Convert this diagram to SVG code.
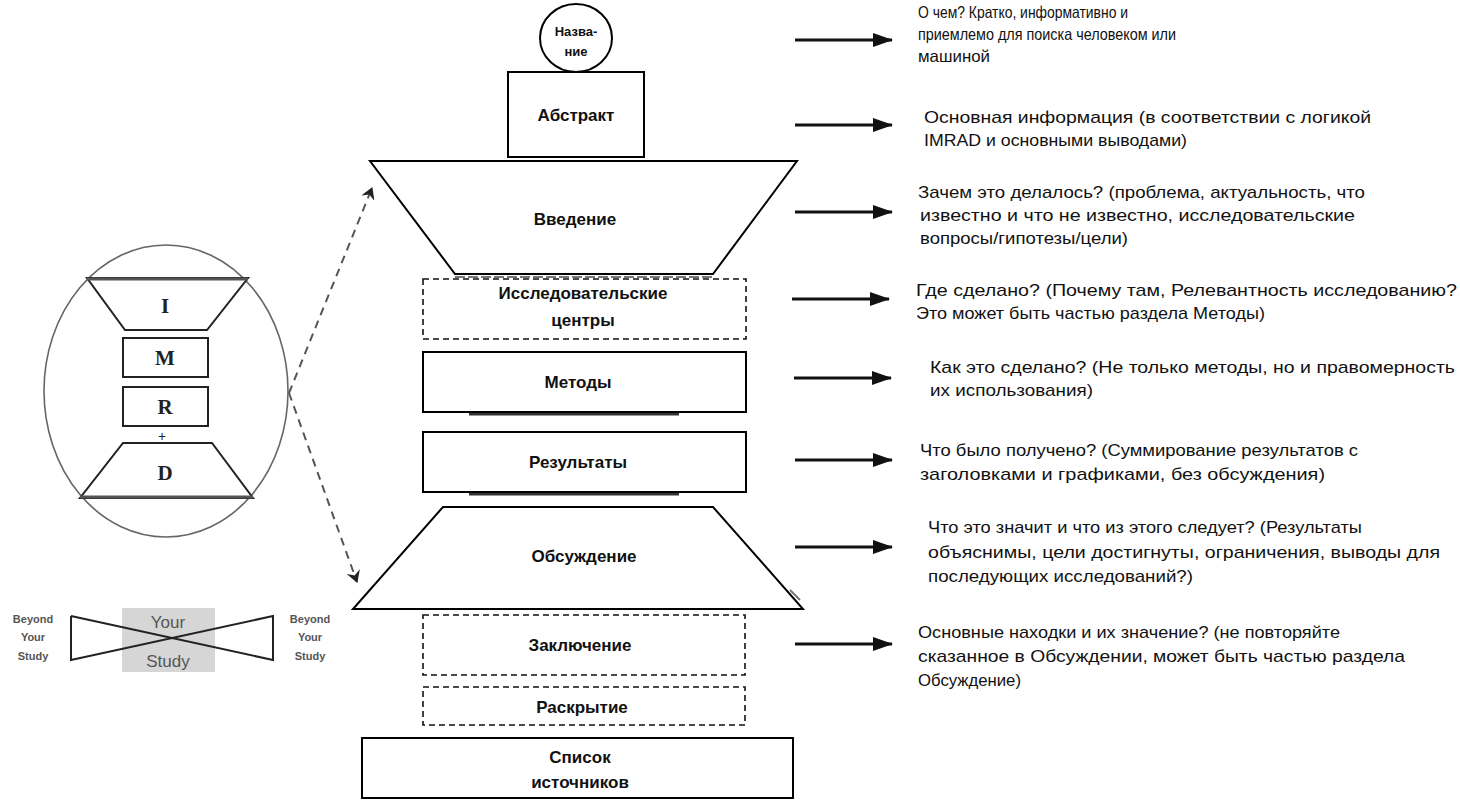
<svg xmlns="http://www.w3.org/2000/svg" width="1460" height="800" viewBox="0 0 1460 800">
<defs>
<marker id="ah" markerWidth="20" markerHeight="16" refX="19" refY="8" orient="auto" markerUnits="userSpaceOnUse" viewBox="0 0 20 16">
<path d="M0,1 L20,8 L0,15 z" fill="#111"/>
</marker>
<marker id="ahd" markerWidth="12" markerHeight="14" refX="11" refY="7" orient="auto" markerUnits="userSpaceOnUse" viewBox="0 0 12 14">
<path d="M0,0 L12,7 L0,14 L4,7 z" fill="#222"/>
</marker>
<style>
.box{fill:#fff;stroke:#000;stroke-width:2}
.dbox{fill:#fff;stroke:#111;stroke-width:1.6;stroke-dasharray:6,4}
.lbl{font-family:"Liberation Sans",Arial,sans-serif;font-weight:bold;font-size:17px;fill:#111;text-anchor:middle;dominant-baseline:central}
.desc{font-family:"Liberation Sans",Arial,sans-serif;font-size:17px;fill:#111;dominant-baseline:central}
.d1{font-size:16.5px}
.arr{stroke:#111;stroke-width:3;fill:none}
.darr{stroke:#555;stroke-width:2;stroke-dasharray:8,6;fill:none}
.imr{fill:#fff;stroke:#222;stroke-width:2}
.ser{font-family:"Liberation Serif","Times New Roman",serif;font-weight:bold;font-size:21px;fill:#222;text-anchor:middle;dominant-baseline:central}
.sm{font-family:"Liberation Sans",Arial,sans-serif;font-weight:bold;font-size:11px;fill:#555;text-anchor:middle;dominant-baseline:central}
.ys{font-family:"Liberation Sans",Arial,sans-serif;font-size:17px;fill:#555;text-anchor:middle;dominant-baseline:central}
.sh{stroke:#333;stroke-width:3}
</style>
</defs>
<rect width="1460" height="800" fill="#fff"/>

<!-- left IMRAD figure -->
<g id="imrad">
<ellipse cx="166" cy="391" rx="122" ry="146" fill="#fff" stroke="#666" stroke-width="1.6"/>
<polygon class="imr" points="87,278 248,278 207,330 125,330"/>
<line x1="87" y1="279" x2="248" y2="279" stroke="#555" stroke-width="3"/>
<text class="ser" x="165" y="306">I</text>
<rect class="imr" x="123" y="338" width="85" height="39"/>
<text class="ser" x="165" y="358">M</text>
<rect class="imr" x="123" y="387" width="85" height="39"/>
<text class="ser" x="165" y="407">R</text>
<text class="ser" x="162" y="436" style="font-size:14px">+</text>
<polygon class="imr" points="123,443 212,443 253,498 80,498"/>
<line x1="80" y1="497" x2="253" y2="497" stroke="#555" stroke-width="3"/>
<text class="ser" x="165" y="473">D</text>
</g>

<g id="beyond">
<rect x="122" y="608" width="93" height="64" fill="#d6d6d6"/>
<text class="ys" x="168" y="622">Your</text>
<text class="ys" x="168" y="661">Study</text>
<polyline points="71,616 273,660 273,616 71,660 71,616" fill="none" stroke="#222" stroke-width="2"/>
<text class="sm" x="33" y="619">Beyond</text>
<text class="sm" x="33" y="637">Your</text>
<text class="sm" x="33" y="656">Study</text>
<text class="sm" x="310" y="619">Beyond</text>
<text class="sm" x="310" y="637">Your</text>
<text class="sm" x="310" y="656">Study</text>
</g>

<!-- central stack -->
<g id="title">
<ellipse cx="576" cy="38" rx="36" ry="34" class="box"/>
<text class="lbl" x="576" y="31" style="font-size:13px">Назва-</text>
<text class="lbl" x="576" y="51" style="font-size:13px">ние</text>
</g>
<g id="abstract">
<rect class="box" x="508" y="72" width="136" height="85"/>
<text class="lbl" x="576" y="115">Абстракт</text>
</g>
<g id="intro">
<line x1="455" y1="277" x2="713" y2="277" stroke="#777" stroke-width="2" stroke-dasharray="10,3"/>
<polygon class="box" points="370,161 797,161 713,274 455,274"/>
<text class="lbl" x="575" y="219">Введение</text>
</g>
<g id="centers">
<rect class="dbox" x="423" y="279" width="323" height="60"/>
<text class="lbl" x="583" y="293">Исследовательские</text>
<text class="lbl" x="583" y="320">центры</text>
</g>
<g id="methods">
<line class="sh" x1="469" y1="414" x2="679" y2="414"/>
<rect class="box" x="423" y="352" width="323" height="60"/>
<text class="lbl" x="578" y="382">Методы</text>
</g>
<g id="results">
<line class="sh" x1="469" y1="494" x2="679" y2="494"/>
<rect class="box" x="423" y="432" width="323" height="60"/>
<text class="lbl" x="578" y="462">Результаты</text>
</g>
<g id="discussion">
<line x1="790" y1="590" x2="800" y2="600" stroke="#777" stroke-width="2"/>
<polygon class="box" points="443,507 713,507 803,609 353,609"/>
<text class="lbl" x="584" y="556">Обсуждение</text>
</g>
<g id="conclusion">
<rect class="dbox" x="423" y="615" width="322" height="60"/>
<text class="lbl" x="580" y="645">Заключение</text>
</g>
<g id="disclosure">
<rect class="dbox" x="423" y="687" width="322" height="38"/>
<text class="lbl" x="582" y="707">Раскрытие</text>
</g>
<g id="references">
<rect class="box" x="362" y="738" width="431" height="60"/>
<text class="lbl" x="580" y="757">Список</text>
<text class="lbl" x="580" y="782">источников</text>
</g>

<!-- connectors -->
<g id="connectors">
<path class="darr" d="M289,393 L372,188" marker-end="url(#ahd)"/>
<path class="darr" d="M289,393 L357,582" marker-end="url(#ahd)"/>
<line class="arr" x1="795" y1="40" x2="892" y2="40" marker-end="url(#ah)"/>
<line class="arr" x1="795" y1="125" x2="892" y2="125" marker-end="url(#ah)"/>
<line class="arr" x1="795" y1="212" x2="892" y2="212" marker-end="url(#ah)"/>
<line class="arr" x1="792" y1="299" x2="889" y2="299" marker-end="url(#ah)"/>
<line class="arr" x1="794" y1="378" x2="891" y2="378" marker-end="url(#ah)"/>
<line class="arr" x1="795" y1="460" x2="892" y2="460" marker-end="url(#ah)"/>
<line class="arr" x1="795" y1="547" x2="892" y2="547" marker-end="url(#ah)"/>
<line class="arr" x1="795" y1="644" x2="892" y2="644" marker-end="url(#ah)"/>
</g>

<!-- descriptions -->
<g id="descriptions">
<text class="desc d1" x="918" y="12" textLength="210" lengthAdjust="spacingAndGlyphs">О чем? Кратко, информативно и</text>
<text class="desc d1" x="918" y="34" textLength="258" lengthAdjust="spacingAndGlyphs">приемлемо для поиска человеком или</text>
<text class="desc d1" x="918" y="56" textLength="72" lengthAdjust="spacingAndGlyphs">машиной</text>

<text class="desc" x="924" y="117" textLength="447" lengthAdjust="spacingAndGlyphs">Основная информация (в соответствии с логикой</text>
<text class="desc" x="924" y="140" textLength="263" lengthAdjust="spacingAndGlyphs">IMRAD и основными выводами)</text>

<text class="desc" x="918" y="192" textLength="447" lengthAdjust="spacingAndGlyphs">Зачем это делалось? (проблема, актуальность, что</text>
<text class="desc" x="920" y="215" textLength="435" lengthAdjust="spacingAndGlyphs">известно и что не известно, исследовательские</text>
<text class="desc" x="920" y="238" textLength="208" lengthAdjust="spacingAndGlyphs">вопросы/гипотезы/цели)</text>

<text class="desc" x="916" y="290" textLength="541" lengthAdjust="spacingAndGlyphs">Где сделано? (Почему там, Релевантность исследованию?</text>
<text class="desc" x="916" y="313" textLength="349" lengthAdjust="spacingAndGlyphs">Это может быть частью раздела Методы)</text>

<text class="desc" x="930" y="367" textLength="525" lengthAdjust="spacingAndGlyphs">Как это сделано? (Не только методы, но и правомерность</text>
<text class="desc" x="930" y="390" textLength="163" lengthAdjust="spacingAndGlyphs">их использования)</text>

<text class="desc" x="920" y="450" textLength="438" lengthAdjust="spacingAndGlyphs">Что было получено? (Суммирование результатов с</text>
<text class="desc" x="920" y="474" textLength="405" lengthAdjust="spacingAndGlyphs">заголовками и графиками, без обсуждения)</text>

<text class="desc" x="928" y="527" textLength="434" lengthAdjust="spacingAndGlyphs">Что это значит и что из этого следует? (Результаты</text>
<text class="desc" x="928" y="552" textLength="512" lengthAdjust="spacingAndGlyphs">объяснимы, цели достигнуты, ограничения, выводы для</text>
<text class="desc" x="928" y="576" textLength="265" lengthAdjust="spacingAndGlyphs">последующих исследований?)</text>

<text class="desc" x="918" y="632" textLength="422" lengthAdjust="spacingAndGlyphs">Основные находки и их значение? (не повторяйте</text>
<text class="desc" x="918" y="656" textLength="487" lengthAdjust="spacingAndGlyphs">сказанное в Обсуждении, может быть частью раздела</text>
<text class="desc" x="918" y="680" textLength="103" lengthAdjust="spacingAndGlyphs">Обсуждение)</text>
</g>
</svg>
